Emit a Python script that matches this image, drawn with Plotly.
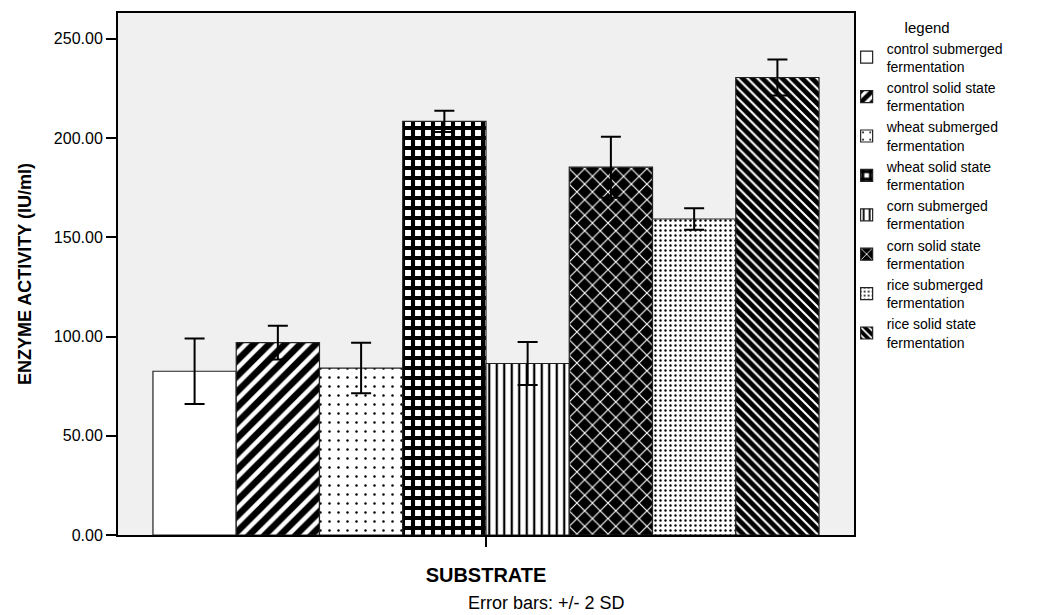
import plotly.graph_objects as go

# Mean enzyme activity (IU/ml) per substrate / fermentation type, with 2 SD error
treatments = [
    "control submerged<br>fermentation",
    "control solid state<br>fermentation",
    "wheat submerged<br>fermentation",
    "wheat solid state<br>fermentation",
    "corn submerged<br>fermentation",
    "corn solid state<br>fermentation",
    "rice submerged<br>fermentation",
    "rice solid state<br>fermentation",
]
activity = [82.5, 96.9, 84.1, 208.4, 86.4, 185.3, 159.2, 230.5]
two_sd = [16.5, 8.5, 12.7, 5.3, 10.8, 15.4, 5.4, 9.1]
category = ["SUBSTRATE"]
y_ticks = [0, 50, 100, 150, 200, 250]

# Monochrome hatch fill for each bar (shape, fg, bg, tile size, solidity)
patterns = [
    dict(shape="", fgcolor="black", bgcolor="white", size=8, solidity=0.3),
    dict(shape="/", fgcolor="black", bgcolor="white", size=11, solidity=0.6),
    dict(shape=".", fgcolor="black", bgcolor="white", size=9, solidity=0.06),
    dict(shape="+", fgcolor="black", bgcolor="white", size=10, solidity=0.65),
    dict(shape="|", fgcolor="black", bgcolor="white", size=7.5, solidity=0.3),
    dict(shape="x", fgcolor="white", bgcolor="black", size=11, solidity=0.2),
    dict(shape=".", fgcolor="black", bgcolor="white", size=5, solidity=0.18),
    dict(shape="\\", fgcolor="white", bgcolor="black", size=7, solidity=0.3),
]

FONT = "Liberation Sans, Arial, Helvetica, sans-serif"

fig = go.Figure()
for name, val, err, pat in zip(treatments, activity, two_sd, patterns):
    fig.add_trace(go.Bar(
        x=category,
        y=[val],
        name=name,
        marker=dict(
            color="white",
            line=dict(color="#222222", width=1.2),
            pattern=dict(fillmode="replace", **pat),
        ),
        error_y=dict(type="data", array=[err], visible=True,
                     color="black", thickness=2, width=10),
    ))

fig.update_layout(
    width=1057,
    height=615,
    margin=dict(l=118, r=203, t=11, b=80),
    paper_bgcolor="white",
    plot_bgcolor="#f0f0f0",
    barmode="group",
    bargap=0.095,
    bargroupgap=0,
    font=dict(family=FONT, color="black", size=14),
    showlegend=True,
    legend=dict(
        title=dict(text="legend", side="top center",
                   font=dict(family=FONT, size=15, color="black")),
        x=0.99, xanchor="left", y=1.0, yanchor="top",
        font=dict(family=FONT, size=14, color="black"),
        bgcolor="rgba(0,0,0,0)",
        itemwidth=30,
        tracegroupgap=0,
        valign="middle",
    ),
    xaxis=dict(
        showticklabels=False,
        ticks="outside", ticklen=10, tickwidth=1.5, tickcolor="black",
        showline=True, linecolor="black", linewidth=2, mirror=True,
        showgrid=False, zeroline=False,
        title=dict(text="<b>SUBSTRATE</b>", standoff=22,
                   font=dict(family=FONT, size=20, color="black")),
    ),
    yaxis=dict(
        range=[0, 263],
        tickvals=y_ticks,
        tickformat=".2f",
        ticks="outside", ticklen=10, tickwidth=1.5, tickcolor="black",
        tickfont=dict(family=FONT, size=16, color="black"),
        showline=True, linecolor="black", linewidth=2, mirror=True,
        showgrid=False, zeroline=False,
        title=dict(text="<b>ENZYME ACTIVITY (IU/ml)</b>", standoff=18,
                   font=dict(family=FONT, size=18, color="black")),
    ),
    annotations=[
        dict(text="Error bars: +/- 2 SD", xref="paper", yref="paper",
             x=(546 - 118) / 736, y=-0.130, xanchor="center", yanchor="middle",
             showarrow=False, font=dict(family=FONT, size=18, color="black")),
    ],
)

fig.write_html("out.html")
